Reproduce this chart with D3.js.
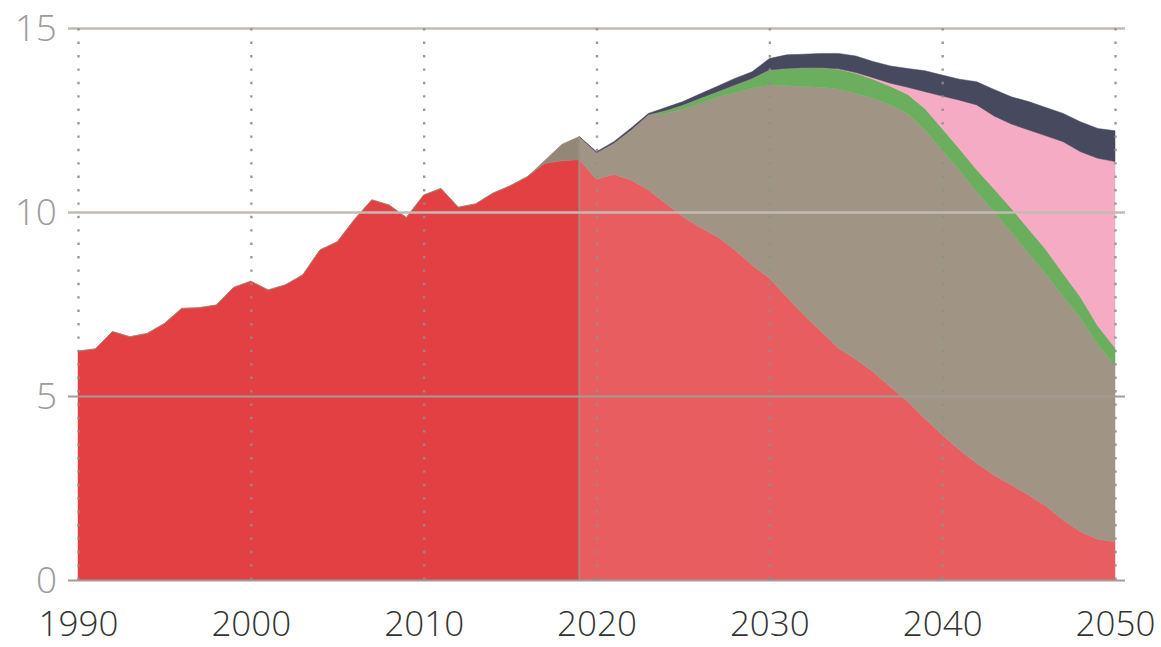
<!DOCTYPE html>
<html><head><meta charset="utf-8">
<script src="https://cdn.jsdelivr.net/npm/d3@7"></script>
<style>
html,body{margin:0;padding:0;background:#fff;}
svg{display:block;}
</style></head>
<body>
<svg id="chart" width="1161" height="647"></svg>
<script>
// ---- DATA ----
const histYears = [1990,1991,1992,1993,1994,1995,1996,1997,1998,1999,2000,2001,2002,2003,2004,2005,2006,2007,2008,2009,2010,2011,2012,2013,2014,2015,2016,2017,2018,2019];
const histRed   = [6.22,6.28,6.75,6.61,6.70,6.97,7.38,7.40,7.47,7.95,8.12,7.88,8.02,8.29,8.97,9.19,9.80,10.33,10.19,9.85,10.46,10.64,10.13,10.22,10.51,10.71,10.96,11.32,11.39,11.42];
const histGrey  = [0,0,0,0,0,0,0,0,0,0,0,0,0,0,0,0,0,0,0,0,0,0,0,0,0,0,0,0.08,0.45,0.63];

const projYears = [2019,2020,2021,2022,2023,2024,2025,2026,2027,2028,2029,2030,2031,2032,2033,2034,2035,2036,2037,2038,2039,2040,2041,2042,2043,2044,2045,2046,2047,2048,2049,2050];
const projRed   = [11.42,10.89,11.02,10.87,10.60,10.24,9.87,9.58,9.33,8.97,8.56,8.20,7.70,7.20,6.75,6.30,6.00,5.66,5.25,4.85,4.39,3.94,3.53,3.17,2.85,2.58,2.31,2.01,1.63,1.31,1.11,1.04];
const projGrey  = [0.63,0.72,0.85,1.36,2.04,2.44,2.92,3.37,3.79,4.27,4.80,5.25,5.73,6.21,6.64,7.04,7.22,7.43,7.66,7.83,7.84,7.74,7.61,7.38,7.16,6.87,6.57,6.31,6.07,5.80,5.28,4.80];
const projGreen = [0,0,0,0,0,0.08,0.12,0.14,0.15,0.21,0.27,0.41,0.47,0.51,0.53,0.54,0.55,0.52,0.51,0.52,0.58,0.59,0.58,0.60,0.62,0.65,0.66,0.66,0.63,0.58,0.52,0.47];
const projPink  = [0,0,0,0,0,0,0,0,0,0,0,0,0,0,0,0.01,0.02,0.04,0.08,0.19,0.46,0.88,1.32,1.76,1.98,2.29,2.69,3.09,3.58,3.95,4.55,5.06];
const projNavy  = [0,0.03,0.04,0.05,0.04,0.08,0.09,0.12,0.15,0.18,0.18,0.31,0.37,0.37,0.39,0.42,0.45,0.44,0.47,0.51,0.57,0.57,0.57,0.63,0.72,0.74,0.77,0.77,0.77,0.81,0.81,0.84];

const yTicks = [0,5,10,15];
const xTicks = [1990,2000,2010,2020,2030,2040,2050];

// ---- STYLE ----
const histColors = {red:"#e34043", grey:"#938877"};
const projColors = {red:"#e85d60", grey:"#a09584", green:"#6aae5e", pink:"#f5abc4", navy:"#474a5f"};

const svg = d3.select("#chart");
const mLeft = 78, mRight = 1115, mTop = 28, mBottom = 580;
const x = d3.scaleLinear().domain([1990,2050]).range([mLeft,mRight]);
const y = d3.scaleLinear().domain([0,15]).range([mBottom,mTop]);

const histRows = histYears.map((yr,i)=>({year:yr, red:histRed[i], grey:histGrey[i]}));
const projRows = projYears.map((yr,i)=>({year:yr, red:projRed[i], grey:projGrey[i], green:projGreen[i], pink:projPink[i], navy:projNavy[i]}));

const area = d3.area().x(d=>x(d.data.year)).y0(d=>y(d[0])).y1(d=>y(d[1])).curve(d3.curveLinear);

const histStack = d3.stack().keys(["red","grey"])(histRows);
const projStack = d3.stack().keys(["red","grey","green","pink","navy"])(projRows);

const gA = svg.append("g");
histStack.forEach(s=>{
  gA.append("path").attr("d",area(s)).attr("fill",histColors[s.key]).attr("stroke",histColors[s.key]).attr("stroke-width",0.5);
});
projStack.forEach(s=>{
  gA.append("path").attr("d",area(s)).attr("fill",projColors[s.key]).attr("stroke",projColors[s.key]).attr("stroke-width",0.5);
});

// separator at 2019
const lastTotal = histRed[histRed.length-1] + histGrey[histGrey.length-1];
svg.append("line").attr("x1",x(2019)).attr("x2",x(2019)).attr("y1",y(0)).attr("y2",y(lastTotal))
  .attr("stroke","#9e8f86").attr("stroke-width",1.5);

// horizontal gridlines
const gy = svg.append("g").attr("transform",`translate(${mLeft},0)`)
  .call(d3.axisLeft(y).tickValues(yTicks).tickSize(0).tickPadding(14));
gy.select(".domain").remove();
gy.selectAll(".tick line").attr("x1",-10).attr("x2",mRight-mLeft+10)
  .attr("stroke",d=>d>=10?"#c2bab3":"#a39b96").attr("stroke-width",d=>d>=10?2.6:1.8);
gy.selectAll(".tick text").attr("fill","#9c9c9c").attr("font-family","'Open Sans', 'DejaVu Sans', sans-serif")
  .attr("font-weight",300).attr("font-size",37).attr("dy","0.35em").attr("x",-21);

// vertical dotted gridlines
const gx = svg.append("g").attr("transform",`translate(0,${mBottom})`)
  .call(d3.axisBottom(x).tickValues(xTicks).tickFormat(d3.format("d")).tickSize(-(mBottom-mTop)).tickPadding(0));
gx.select(".domain").remove();
gx.selectAll(".tick line").attr("stroke","#8f8f8f").attr("stroke-opacity",0.9).attr("stroke-width",2.4)
  .attr("stroke-dasharray","2.4,11");
gx.selectAll(".tick text").attr("fill","#333").attr("font-family","'Open Sans', 'DejaVu Sans', sans-serif")
  .attr("font-weight",300).attr("font-size",35).attr("y",56).attr("dy",0);
</script>
</body></html>
